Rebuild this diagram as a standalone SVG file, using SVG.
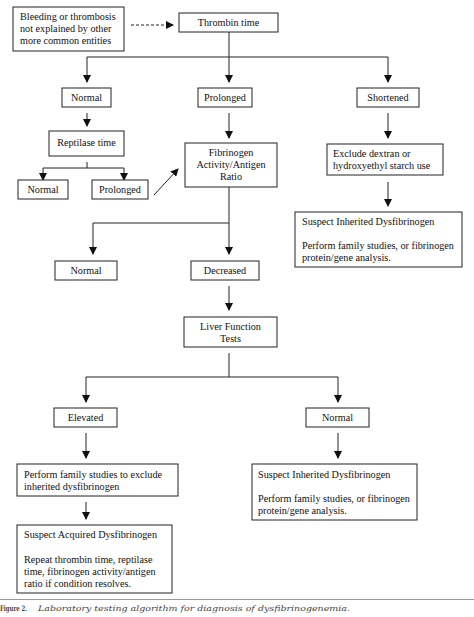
<svg xmlns="http://www.w3.org/2000/svg" width="474" height="617" viewBox="0 0 474 617">
<style>
  .box { fill: #fff; stroke: #222; stroke-width: 1; }
  .t { font-family: "Liberation Serif", "Times New Roman", serif; font-size: 10.2px; fill: #111; }
  .c { text-anchor: middle; }
  .ln { fill: none; stroke: #222; stroke-width: 1; }
  .arr { fill: none; stroke: #222; stroke-width: 1; marker-end: url(#ah); }
  .cap { font-family: "DejaVu Serif", "Liberation Serif", serif; font-size: 7.5px; fill: #444; }
</style>
<defs>
  <marker id="ah" markerWidth="8" markerHeight="8" refX="7" refY="4" orient="auto" markerUnits="userSpaceOnUse">
    <path d="M0,0 L8,4 L0,8 Z" fill="#111"/>
  </marker>
</defs>
<rect width="474" height="617" fill="#fff"/>

<g id="connectors">
  <line class="arr" x1="131" y1="25" x2="173" y2="25" stroke-dasharray="3,2"/>
  <line class="ln" x1="229" y1="32" x2="229" y2="57"/>
  <line class="ln" x1="87" y1="57" x2="388" y2="57"/>
  <line class="arr" x1="87" y1="57" x2="87" y2="82"/>
  <line class="arr" x1="229" y1="57" x2="229" y2="82"/>
  <line class="arr" x1="388" y1="57" x2="388" y2="82"/>
  <line class="arr" x1="87" y1="113" x2="87" y2="126"/>
  <line class="ln" x1="87" y1="162" x2="87" y2="168"/>
  <line class="ln" x1="43" y1="168" x2="124" y2="168"/>
  <line class="arr" x1="43" y1="168" x2="43" y2="180"/>
  <line class="arr" x1="124" y1="168" x2="124" y2="180"/>
  <line class="arr" x1="154" y1="195" x2="178" y2="169"/>
  <line class="arr" x1="229" y1="113" x2="229" y2="138"/>
  <line class="arr" x1="388" y1="113" x2="388" y2="138"/>
  <line class="arr" x1="388" y1="182" x2="388" y2="206"/>
  <line class="ln" x1="229" y1="187" x2="229" y2="223"/>
  <line class="ln" x1="93" y1="223" x2="229" y2="223"/>
  <line class="arr" x1="93" y1="223" x2="93" y2="254"/>
  <line class="arr" x1="229" y1="223" x2="229" y2="254"/>
  <line class="arr" x1="229" y1="286" x2="229" y2="310"/>
  <line class="ln" x1="229" y1="353" x2="229" y2="377"/>
  <line class="ln" x1="86" y1="377" x2="338" y2="377"/>
  <line class="arr" x1="86" y1="377" x2="86" y2="402"/>
  <line class="arr" x1="338" y1="377" x2="338" y2="402"/>
  <line class="arr" x1="86" y1="433" x2="86" y2="458"/>
  <line class="arr" x1="338" y1="433" x2="338" y2="458"/>
  <line class="arr" x1="86" y1="502" x2="86" y2="519"/>
</g>

<g id="bleeding">
  <rect class="box" x="13" y="7" width="111" height="44"/>
  <text class="t" x="20" y="20">Bleeding or thrombosis</text>
  <text class="t" x="20" y="32">not explained by other</text>
  <text class="t" x="20" y="44">more common entities</text>
</g>
<g id="thrombin">
  <rect class="box" x="179" y="13" width="99" height="19"/>
  <text class="t c" x="228.5" y="26">Thrombin time</text>
</g>
<g id="normal1">
  <rect class="box" x="62" y="88" width="49" height="19"/>
  <text class="t c" x="86.5" y="101">Normal</text>
</g>
<g id="prolonged1">
  <rect class="box" x="198" y="88" width="54" height="19"/>
  <text class="t c" x="225" y="101">Prolonged</text>
</g>
<g id="shortened">
  <rect class="box" x="357" y="88" width="62" height="19"/>
  <text class="t c" x="388" y="101">Shortened</text>
</g>
<g id="reptilase">
  <rect class="box" x="49" y="131" width="75" height="25"/>
  <text class="t c" x="86.5" y="146">Reptilase time</text>
</g>
<g id="normal2">
  <rect class="box" x="18" y="180" width="50" height="19"/>
  <text class="t c" x="43" y="193">Normal</text>
</g>
<g id="prolonged2">
  <rect class="box" x="92" y="180" width="56" height="19"/>
  <text class="t c" x="120" y="193">Prolonged</text>
</g>
<g id="fibrinogen">
  <rect class="box" x="185" y="143" width="92" height="44"/>
  <text class="t c" x="231" y="156">Fibrinogen</text>
  <text class="t c" x="231" y="168">Activity/Antigen</text>
  <text class="t c" x="231" y="180">Ratio</text>
</g>
<g id="exclude">
  <rect class="box" x="327" y="144" width="116" height="31"/>
  <text class="t" x="333" y="157">Exclude dextran or</text>
  <text class="t" x="333" y="169">hydroxyethyl starch use</text>
</g>
<g id="inherited1">
  <rect class="box" x="295" y="212" width="167" height="55"/>
  <text class="t" x="302" y="225">Suspect Inherited Dysfibrinogen</text>
  <text class="t" x="302" y="249">Perform family studies, or fibrinogen</text>
  <text class="t" x="302" y="261">protein/gene analysis.</text>
</g>
<g id="normal3">
  <rect class="box" x="55" y="261" width="62" height="19"/>
  <text class="t c" x="86" y="274">Normal</text>
</g>
<g id="decreased">
  <rect class="box" x="191" y="261" width="68" height="19"/>
  <text class="t c" x="225" y="274">Decreased</text>
</g>
<g id="liver">
  <rect class="box" x="184" y="317" width="93" height="30"/>
  <text class="t c" x="230.5" y="330">Liver Function</text>
  <text class="t c" x="230.5" y="342">Tests</text>
</g>
<g id="elevated">
  <rect class="box" x="54" y="408" width="63" height="19"/>
  <text class="t c" x="85.5" y="421">Elevated</text>
</g>
<g id="normal4">
  <rect class="box" x="306" y="408" width="63" height="19"/>
  <text class="t c" x="337.5" y="421">Normal</text>
</g>
<g id="perform">
  <rect class="box" x="17" y="464" width="161" height="32"/>
  <text class="t" x="24" y="478">Perform family studies to exclude</text>
  <text class="t" x="24" y="490">inherited dysfibrinogen</text>
</g>
<g id="inherited2">
  <rect class="box" x="252" y="464" width="165" height="56"/>
  <text class="t" x="258" y="478">Suspect Inherited Dysfibrinogen</text>
  <text class="t" x="258" y="502">Perform family studies, or fibrinogen</text>
  <text class="t" x="258" y="514">protein/gene analysis.</text>
</g>
<g id="acquired">
  <rect class="box" x="17" y="525" width="155" height="68"/>
  <text class="t" x="24" y="538">Suspect Acquired Dysfibrinogen</text>
  <text class="t" x="24" y="563">Repeat thrombin time, reptilase</text>
  <text class="t" x="24" y="575">time, fibrinogen activity/antigen</text>
  <text class="t" x="24" y="587">ratio if condition resolves.</text>
</g>

<line x1="0" y1="599.5" x2="474" y2="599.5" stroke="#999" stroke-width="1"/>
<text class="cap" x="0" y="611" font-weight="bold" font-family="Liberation Serif, serif" textLength="27" lengthAdjust="spacingAndGlyphs">Figure 2.</text>
<text class="cap" x="38" y="611" font-style="italic" textLength="312" lengthAdjust="spacingAndGlyphs">Laboratory testing algorithm for diagnosis of dysfibrinogenemia.</text>
</svg>
